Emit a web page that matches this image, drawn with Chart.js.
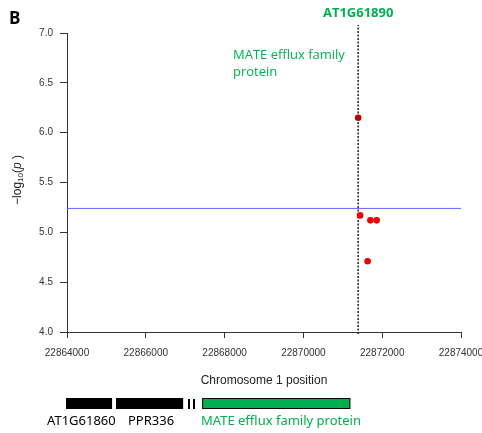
<!DOCTYPE html>
<html>
<head>
<meta charset="utf-8">
<script src="https://cdn.jsdelivr.net/npm/chart.js@4"></script>
<style>
    html, body { margin: 0; padding: 0; background: #fff; }
    #wrap { position: relative; width: 482px; height: 433px; }
</style>
</head>
<body>
<div id="wrap"><canvas id="gwasChart" width="482" height="433"></canvas></div>
<script>
// SNP positions and -log10(p) values
const snpPos = [22871390, 22871440, 22871700, 22871860, 22871630];
const snpLogP = [6.15, 5.17, 5.12, 5.12, 4.71];
const snpColors = ['#c00000', '#ee0000', '#ee0000', '#ee0000', '#ee0000'];

const thresholdY = 5.24;
const leadSnpPos = 22871390;

const xTicks = [22864000, 22866000, 22868000, 22870000, 22872000, 22874000];
const yTicks = [4.0, 4.5, 5.0, 5.5, 6.0, 6.5, 7.0];

// gene models under the axis (start, end in bp)
const geneNames = ['AT1G61860', 'PPR336', 'MATE efflux family protein'];
const geneStart = [22863975, 22865245, 22867430];
const geneEnd = [22865143, 22866946, 22871190];
const geneColors = ['#000000', '#000000', '#00b050'];
const geneTextColors = ['#000000', '#000000', '#00b050'];

const GREEN = '#00b050';

const annotations = {
    id: 'annotations',
    afterDraw(chart) {
        const ctx = chart.ctx;
        const x = chart.scales.x;
        const area = chart.chartArea;
        ctx.save();

        // panel letter
        ctx.fillStyle = '#000';
        ctx.font = 'bold 17px "Open Sans", sans-serif';
        ctx.textAlign = 'left';
        ctx.textBaseline = 'middle';
        ctx.fillText('B', 9, 19);

        // lead SNP label
        const lx = x.getPixelForValue(leadSnpPos);
        ctx.fillStyle = GREEN;
        ctx.font = 'bold 13px "Open Sans", sans-serif';
        ctx.textAlign = 'center';
        ctx.fillText('AT1G61890', lx, 13);

        ctx.font = '13px "Open Sans", sans-serif';
        ctx.textAlign = 'left';
        ctx.fillText('MATE efflux family', 233, 55);
        ctx.fillText('protein', 233, 72);

        // y axis title: -log10(p)
        ctx.save();
        ctx.translate(18, 180);
        ctx.rotate(-Math.PI / 2);
        ctx.fillStyle = '#222';
        ctx.textBaseline = 'middle';
        ctx.textAlign = 'left';
        const parts = [
            ['\u2212log', '12px "Liberation Sans", Arial', 0],
            ['10', '8px "Liberation Sans", Arial', 3],
            ['(', '12px "Liberation Sans", Arial', 0],
            ['p', 'italic 12px "Liberation Sans", Arial', 0],
            [' )', '12px "Liberation Sans", Arial', 0]
        ];
        let total = 0;
        parts.forEach(p => { ctx.font = p[1]; total += ctx.measureText(p[0]).width; });
        let cx = -total / 2;
        parts.forEach(p => {
            ctx.font = p[1];
            ctx.fillText(p[0], cx, p[2]);
            cx += ctx.measureText(p[0]).width;
        });
        ctx.restore();

        // x axis title
        ctx.fillStyle = '#222';
        ctx.font = '12px "Liberation Sans", Arial';
        ctx.textAlign = 'center';
        ctx.fillText('Chromosome 1 position', (area.left + area.right) / 2, 381);

        // gene models
        const top = 398, h = 11;
        geneNames.forEach((name, i) => {
            const x0 = x.getPixelForValue(geneStart[i]);
            const x1 = x.getPixelForValue(geneEnd[i]);
            ctx.fillStyle = geneColors[i];
            ctx.fillRect(x0, top, x1 - x0, h);
            ctx.strokeStyle = '#000';
            ctx.lineWidth = 1;
            ctx.strokeRect(x0 + 0.5, top + 0.5, x1 - x0 - 1, h - 1);
        });
        // break marks
        ctx.fillStyle = '#000';
        ctx.fillRect(188, top + 1, 2, h - 1);
        ctx.fillRect(193, top + 1, 2, h - 1);

        ctx.font = '13px "Noto Sans", sans-serif';
        ctx.textAlign = 'left';
        ctx.fillStyle = geneTextColors[0];
        ctx.fillText(geneNames[0], 47, 421);
        ctx.fillStyle = geneTextColors[1];
        ctx.fillText(geneNames[1], 128, 421);
        ctx.fillStyle = geneTextColors[2];
        ctx.fillText(geneNames[2], 201, 421);

        ctx.restore();
    }
};

new Chart(document.getElementById('gwasChart'), {
    type: 'scatter',
    data: {
        datasets: [
            {
                label: 'SNPs',
                data: snpPos.map((p, i) => ({x: p, y: snpLogP[i]})),
                pointBackgroundColor: snpColors,
                pointBorderWidth: 0,
                pointRadius: 3.3,
                order: 0
            },
            {
                label: 'threshold',
                type: 'line',
                data: [{x: xTicks[0], y: thresholdY}, {x: xTicks[xTicks.length - 1], y: thresholdY}],
                borderColor: '#6464ff',
                borderWidth: 1,
                pointRadius: 0,
                order: 2
            },
            {
                label: 'lead',
                type: 'line',
                data: [{x: leadSnpPos, y: 3.98}, {x: leadSnpPos, y: 7.08}],
                borderColor: '#222',
                borderWidth: 1.5,
                borderDash: [2, 1.5],
                pointRadius: 0,
                clip: false,
                order: 1
            }
        ]
    },
    options: {
        responsive: false,
        animation: false,
        events: [],
        layout: {padding: {left: 0, right: 21, top: 33, bottom: 0}},
        plugins: {legend: {display: false}, tooltip: {enabled: false}},
        scales: {
            x: {
                type: 'linear',
                min: 22864000,
                max: 22874000,
                afterBuildTicks: s => { s.ticks = xTicks.map(v => ({value: v})); },
                afterFit: s => { s.height = 101; s.paddingLeft = 0; s.paddingRight = 0; },
                grid: {drawOnChartArea: false, drawTicks: true, tickLength: 6, color: '#333'},
                border: {display: true, color: '#333', width: 1},
                ticks: {
                    color: '#333',
                    padding: 9,
                    maxRotation: 0,
                    autoSkip: false,
                    font: {family: '"Liberation Sans", Arial', size: 10},
                    callback: v => String(v)
                }
            },
            y: {
                min: 4,
                max: 7,
                afterBuildTicks: s => { s.ticks = yTicks.map(v => ({value: v})); },
                afterFit: s => { s.width = 67; s.paddingTop = 0; s.paddingBottom = 0; },
                grid: {drawOnChartArea: false, drawTicks: true, tickLength: 7, color: '#333'},
                border: {display: true, color: '#333', width: 1},
                ticks: {
                    color: '#333',
                    padding: 7,
                    font: {family: '"Liberation Sans", Arial', size: 10},
                    callback: v => Number(v).toFixed(1)
                }
            }
        }
    },
    plugins: [annotations]
});
</script>
</body>
</html>
